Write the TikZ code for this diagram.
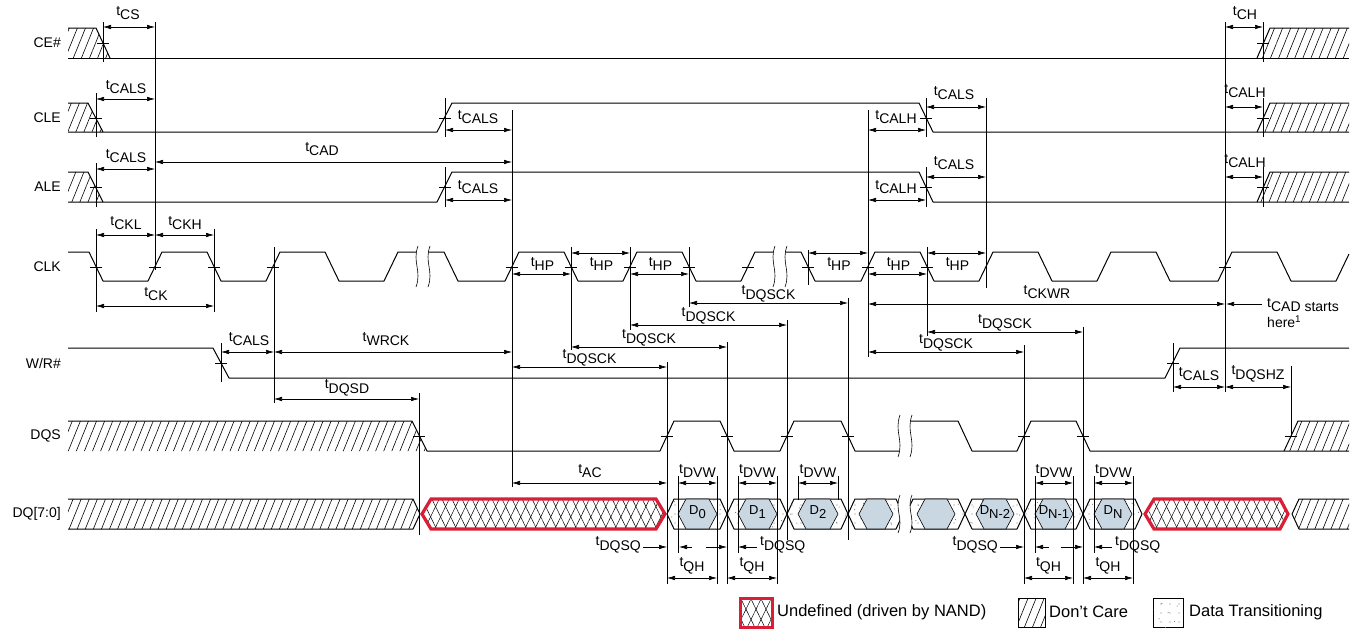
\documentclass[tikz,border=0pt]{standalone}
\usepackage{fontspec}
\setmainfont{Liberation Sans}
\usetikzlibrary{arrows.meta,patterns.meta}

\definecolor{dqblue}{RGB}{201,215,227}
\definecolor{nandred}{RGB}{218,30,55}

\newcommand{\tsub}[1]{t\raisebox{-4.5pt}{#1}}
\newcommand{\dsub}[1]{D\raisebox{-4pt}{#1}}
\newcommand{\edgetick}[2]{\draw[ref] ({#1-6},#2) -- ({#1+6},#2);}
\newcommand{\waveskip}[3]{%
  \fill[white] ({#1+1},#2) .. controls ({#1-5},{#2+0.4*(#3-#2)}) and ({#1+5},{#2+0.6*(#3-#2)}) .. ({#1-1},#3)
    -- ({#1+11},#3) .. controls ({#1+17},{#2+0.6*(#3-#2)}) and ({#1+7},{#2+0.4*(#3-#2)}) .. ({#1+13},#2) -- cycle;
  \draw[ref] ({#1+1},#2) .. controls ({#1-5},{#2+0.4*(#3-#2)}) and ({#1+5},{#2+0.6*(#3-#2)}) .. ({#1-1},#3);
  \draw[ref] ({#1+13},#2) .. controls ({#1+7},{#2+0.4*(#3-#2)}) and ({#1+17},{#2+0.6*(#3-#2)}) .. ({#1+11},#3);}
\newcommand{\dqcell}[4]{%
  \draw[sig, transit] (#1,514) -- ({#1+7},499) -- ({#2-7},499) -- (#2,514) -- ({#2-7},529) -- ({#1+7},529) -- cycle;
  \draw[ref, fill=dqblue] ({#1+11},514) -- ({#1+19},499) -- ({#2-18},499) -- ({#2-10},514) -- ({#2-18},529) -- ({#1+19},529) -- cycle;
  \node[font=\fontsize{13}{15}\selectfont] (#3) at ({(#1+#2)/2+0.5},512) {#4};}

\tikzset{
  sig/.style={line width=1pt, line join=round},
  ref/.style={line width=0.6pt},
  dim/.style={ref, {Latex[length=8pt,width=4.5pt]}-{Latex[length=8pt,width=4.5pt]}},
  dimto/.style={ref, -{Latex[length=8pt,width=4.5pt]}},
  dontcare/.style={pattern={Lines[angle=68,distance=7.5pt,line width=0.6pt]}},
  crossa/.style={pattern={Lines[angle=64,distance=9pt,line width=0.5pt]}},
  crossb/.style={pattern={Lines[angle=116,distance=9pt,line width=0.5pt]}},
  transit/.style={fill=white,
    postaction={pattern={Dots[radius=0.6pt,distance=9pt]}, pattern color=gray},
    postaction={pattern={Dots[radius=0.6pt,distance=11pt,angle=35,xshift=3pt,yshift=4pt]}, pattern color=gray}},
  legend/.style={anchor=west, font=\fontsize{16.5}{20}\selectfont}
}

\begin{document}
\begin{tikzpicture}[x=1pt,y=-1pt,font=\fontsize{14}{17}\selectfont,inner sep=1pt]
\useasboundingbox (0,0) rectangle (1357,640);

\node[anchor=east] (ce) at (62,43) {CE\#};
\node[anchor=east] (cle) at (62,118) {CLE};
\node[anchor=east] (ale) at (62,187) {ALE};
\node[anchor=east] (clk) at (62,267) {CLK};
\node[anchor=east] (wr) at (62,363) {W/R\#};
\node[anchor=east] (dqs) at (62,436) {DQS};
\node[anchor=east] (dq) at (62,514) {DQ[7:0]};

\fill[dontcare] (68,28) -- (96,28) -- (110,58) -- (68,58) -- cycle;
\fill[dontcare] (1257,58) -- (1270,28) -- (1349,28) -- (1349,58) -- cycle;
\draw[sig] (68,28) -- (96,28) -- (110,58);
\draw[sig] (68,58) -- (1349,58);
\draw[sig] (1257,58) -- (1270,28) -- (1349,28);

\fill[dontcare] (68,103) -- (88,103) -- (103,132) -- (68,132) -- cycle;
\fill[dontcare] (1257,132) -- (1270,103) -- (1349,103) -- (1349,132) -- cycle;
\draw[sig] (68,103) -- (88,103) -- (103,132);
\draw[sig] (68,132) -- (437,132) -- (452,103) -- (919,103) -- (933,132) -- (1349,132);
\draw[sig] (1257,132) -- (1270,103) -- (1349,103);

\fill[dontcare] (68,172) -- (88,172) -- (103,202) -- (68,202) -- cycle;
\fill[dontcare] (1257,202) -- (1270,172) -- (1349,172) -- (1349,202) -- cycle;
\draw[sig] (68,172) -- (88,172) -- (103,202);
\draw[sig] (68,202) -- (437,202) -- (452,172) -- (919,172) -- (933,202) -- (1349,202);
\draw[sig] (1257,202) -- (1270,172) -- (1349,172);

\draw[sig] (68,252) -- (89,252) -- (103,281) -- (148,281) -- (162,252) -- (207,252) -- (221,281)
  -- (266,281) -- (280,252) -- (325,252) -- (339,281) -- (384,281) -- (398,252) -- (444,252)
  -- (458,281) -- (505,281) -- (519,252) -- (564,252) -- (578,281) -- (623,281) -- (637,252)
  -- (682,252) -- (696,281) -- (741,281) -- (755,252) -- (801,252) -- (815,281) -- (861,281)
  -- (875,252) -- (920,252) -- (934,281) -- (979,281) -- (993,252) -- (1038,252) -- (1052,281)
  -- (1097,281) -- (1111,252) -- (1156,252) -- (1170,281) -- (1218,281) -- (1232,252) -- (1277,252)
  -- (1291,281) -- (1336,281) -- (1349,254);

\draw[sig] (68,348) -- (213,348) -- (229,378) -- (1165,378) -- (1180,348) -- (1349,348);

\fill[dontcare] (68,421) -- (412,421) -- (427,451) -- (68,451) -- cycle;
\fill[dontcare] (1284,451) -- (1298,421) -- (1349,421) -- (1349,451) -- cycle;
\draw[sig] (68,421) -- (412,421) -- (427,451) -- (660,451) -- (674,421) -- (720,421) -- (734,451)
  -- (780,451) -- (794,421) -- (841,421) -- (855,451) -- (903,451) -- (906,421) -- (958,421)
  -- (972,451) -- (1017,451) -- (1031,421) -- (1076,421) -- (1090,451) -- (1349,451);
\draw[sig] (1284,451) -- (1298,421) -- (1349,421);

\fill[dontcare] (68,499) -- (413,499) -- (420,514) -- (413,529) -- (68,529) -- cycle;
\draw[sig] (68,499) -- (413,499) -- (420,514) -- (413,529) -- (68,529);
\fill[crossa] (422,514) -- (431,499) -- (656,499) -- (665,514) -- (656,529) -- (431,529) -- cycle;
\fill[crossb] (422,514) -- (431,499) -- (656,499) -- (665,514) -- (656,529) -- (431,529) -- cycle;
\draw[nandred, line width=3.2pt] (422,514) -- (431,499) -- (656,499) -- (665,514) -- (656,529) -- (431,529) -- cycle;
\dqcell{667}{727}{d0}{\dsub{0}}
\dqcell{727}{787}{d1}{\dsub{1}}
\dqcell{787}{848}{d2}{\dsub{2}}
\dqcell{848}{903}{dskipa}{}
\dqcell{906}{965}{dskipb}{}
\dqcell{965}{1024}{dn2}{\dsub{N-2}}
\dqcell{1024}{1083}{dn1}{\dsub{N-1}}
\dqcell{1083}{1142}{dn}{\dsub{N}}
\fill[crossa] (1145,514) -- (1154,499) -- (1280,499) -- (1288,514) -- (1280,529) -- (1154,529) -- cycle;
\fill[crossb] (1145,514) -- (1154,499) -- (1280,499) -- (1288,514) -- (1280,529) -- (1154,529) -- cycle;
\draw[nandred, line width=3.2pt] (1145,514) -- (1154,499) -- (1280,499) -- (1288,514) -- (1280,529) -- (1154,529) -- cycle;
\fill[dontcare] (1292,514) -- (1299,499) -- (1349,499) -- (1349,529) -- (1299,529) -- cycle;
\draw[sig] (1349,499) -- (1299,499) -- (1292,514) -- (1299,529) -- (1349,529);

\waveskip{417}{246}{287}
\waveskip{774}{246}{287}
\waveskip{899}{415}{457}
\waveskip{899}{495}{533}

\foreach \x/\a/\b in {103/22/62, 1263/22/62, 1263/98/137, 1263/167/207, 96/93/137, 96/163/207,
  96/229/312, 155/22/270, 214/229/312, 221/343/382, 274/247/403, 419/393/535, 445/98/137,
  445/167/207, 512/110/487, 571/247/350, 630/247/330, 689/247/307, 667/362/584, 727/342/584,
  787/320/540, 848/298/540, 808/250/285, 868/110/357, 926/98/137, 926/167/207, 927/247/336,
  986/98/288, 1024/345/584, 1083/327/584, 1173/343/392, 1225/22/392, 1291/366/437,
  678/476/553, 717/476/584, 738/476/553, 777/476/584, 798/476/500, 838/476/500,
  1035/476/553, 1073/476/584, 1094/476/553, 1133/476/584}
  {\draw[ref] (\x,\a) -- (\x,\b);}

\foreach \x/\y in {103/43, 1263/43, 96/118, 445/118, 926/118, 1263/118, 96/187, 445/187,
  926/187, 1263/187, 96/267, 155/267, 214/267, 273/267, 512/267, 571/267, 630/267, 689/267,
  748/267, 808/267, 868/267, 927/267, 1225/267, 221/363, 1173/363, 419/436, 667/436, 727/436,
  787/436, 848/436, 1024/436, 1083/436, 1291/436}
  {\edgetick{\x}{\y}}

\draw[dim] (103,27) -- (155,27);
\node (tcs) at (128,13) {\tsub{CS}};
\draw[dim] (1225,27) -- (1263,27);
\node (tch) at (1245,13) {\tsub{CH}};

\draw[dim] (96,99) -- (155,99);
\node (tcals1) at (126,87) {\tsub{CALS}};
\draw[dim] (445,130) -- (512,130);
\node (tcals2) at (478,117) {\tsub{CALS}};
\draw[dim] (868,130) -- (926,130);
\node (tcalh1) at (896,117) {\tsub{CALH}};
\draw[dim] (926,107) -- (986,107);
\node (tcals3) at (954,93) {\tsub{CALS}};
\draw[dim] (1225,107) -- (1263,107);
\node (tcalh2) at (1245,91) {\tsub{CALH}};

\draw[dim] (96,169) -- (155,169);
\node (tcals4) at (126,156) {\tsub{CALS}};
\draw[dim] (155,162) -- (512,162);
\node (tcad) at (322,149) {\tsub{CAD}};
\draw[dim] (445,200) -- (512,200);
\node (tcals5) at (478,187) {\tsub{CALS}};
\draw[dim] (868,200) -- (926,200);
\node (tcalh3) at (896,187) {\tsub{CALH}};
\draw[dim] (926,177) -- (986,177);
\node (tcals6) at (954,163) {\tsub{CALS}};
\draw[dim] (1225,177) -- (1263,177);
\node (tcalh4) at (1245,161) {\tsub{CALH}};

\draw[dim] (96,235) -- (155,235);
\node (tckl) at (126,223) {\tsub{CKL}};
\draw[dim] (155,235) -- (214,235);
\node (tckh) at (185,223) {\tsub{CKH}};
\draw[dim] (96,306) -- (214,306);
\node (tck) at (156,294) {\tsub{CK}};

\foreach \a/\b/\y [count=\i] in {512/571/274, 571/630/253, 630/689/274, 808/868/253, 868/927/274, 927/986/253} {
  \draw[dim] (\a,\y) -- (\b,\y);
  \node (thp\i) at ({(\a+\b)/2+1},264) {\tsub{HP}};
}

\draw[dim] (868,304) -- (1225,304);
\node (tckwr) at (1047,292) {\tsub{CKWR}};
\draw[dimto] (1262,304) -- (1226,304);
\node[anchor=west, align=left] (tcadnote) at (1266,313) {\tsub{CAD starts}\\[3pt]here\textsuperscript{1}};

\foreach \a/\b/\y [count=\i] in {689/848/303, 630/787/325, 571/727/347, 512/667/367, 927/1083/332, 868/1024/352} {
  \draw[dim] (\a,\y) -- (\b,\y);
  \node (tdqsck\i) at ({(\a+\b)/2},{\y-9}) {\tsub{DQSCK}};
}

\draw[dim] (221,352) -- (274,352);
\node (tcals7) at (249,339) {\tsub{CALS}};
\draw[dim] (274,352) -- (512,352);
\node (twrck) at (386,339) {\tsub{WRCK}};
\draw[dim] (274,399) -- (419,399);
\node (tdqsd) at (347,388) {\tsub{DQSD}};
\draw[dim] (1173,387) -- (1225,387);
\node (tcals8) at (1199,374) {\tsub{CALS}};
\draw[dim] (1225,387) -- (1291,387);
\node (tdqshz) at (1258,374) {\tsub{DQSHZ}};

\draw[dim] (512,483) -- (667,483);
\node (tac) at (590,471) {\tsub{AC}};
\foreach \a/\b [count=\i] in {678/717, 738/777, 798/838, 1035/1073, 1094/1133} {
  \draw[dim] (\a,483) -- (\b,483);
  \node (tdvw\i) at ({(\a+\b)/2},471) {\tsub{DVW}};
}
\foreach \a/\b [count=\i] in {667/717, 727/777, 1024/1073, 1083/1133} {
  \draw[dim] (\a,578) -- (\b,578);
  \node (tqh\i) at ({(\a+\b)/2},566) {\tsub{QH}};
}

\draw[dimto] (643,547) -- (667,547);
\node[anchor=east] (tdqsq1) at (642,545) {\tsub{DQSQ}};
\draw[dimto] (692,547) -- (679,547);
\draw[dimto] (706,547) -- (727,547);
\draw[dimto] (757,547) -- (738,547);
\node[anchor=west] (tdqsq2) at (759,545) {\tsub{DQSQ}};
\draw[dimto] (1000,547) -- (1024,547);
\node[anchor=east] (tdqsq3) at (999,545) {\tsub{DQSQ}};
\draw[dimto] (1049,547) -- (1035,547);
\draw[dimto] (1061,547) -- (1083,547);
\draw[dimto] (1112,547) -- (1094,547);
\node[anchor=west] (tdqsq4) at (1114,545) {\tsub{DQSQ}};

\fill[crossa] (740,598) rectangle (772,627);
\fill[crossb] (740,598) rectangle (772,627);
\draw[nandred, line width=3pt] (740,598) rectangle (772,627);
\node[legend] (undef) at (776,612) {Undefined (driven by NAND)};
\draw[ref, dontcare] (1018,598) rectangle (1045,627);
\node[legend] (dontc) at (1048,612) {Don’t Care};
\draw[ref, transit] (1153,598) rectangle (1183,627);
\node[legend] (transit) at (1188,612) {Data Transitioning};
\end{tikzpicture}
\end{document}
